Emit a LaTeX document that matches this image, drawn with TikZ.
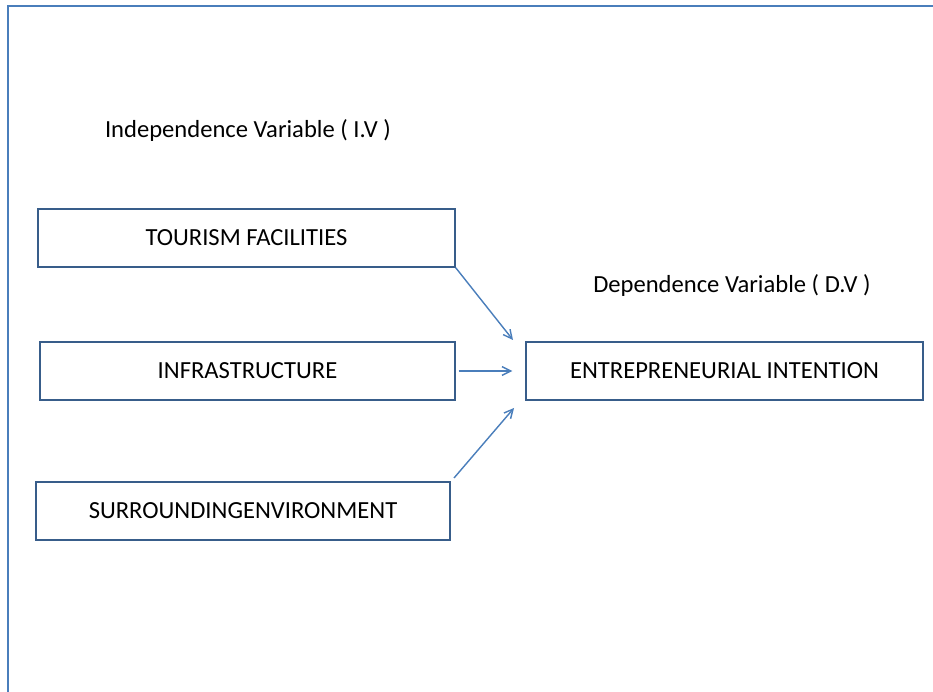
\documentclass[tikz,border=0pt]{standalone}
\usepackage{fontspec}
\setmainfont{Carlito}
\usepackage{xcolor}
\usetikzlibrary{arrows.meta}
\definecolor{lineblue}{HTML}{4A7EBB}
\definecolor{boxblue}{HTML}{385D8A}
\tikzset{
    RA1/.style ={rectangle,minimum height = 58*0.02cm, inner sep=0pt, draw=boxblue, thick, font=\fontsize{14}{16}\selectfont},
    TT1/.style ={font=\fontsize{14}{16}\selectfont},
    AR1/.style ={-{Straight Barb[length=5pt,width=5pt]}, draw=lineblue, thick}
}

\begin{document}
\begin{tikzpicture}[x=0.02cm,y=-0.02cm]
        \useasboundingbox (0,0) rectangle (933,692);
        % outer frame
        \draw[lineblue, thick] (8,692) -- (8,6) -- (933,6);
        % headings
        \node[TT1] (iv) at (248,130) {Independence Variable ( I.V )};
        \node[TT1] (dv) at (732,285) {Dependence Variable ( D.V )};
        % boxes
        \node[RA1, minimum width = 417*0.02cm] (tf) at (246.5,238) {TOURISM FACILITIES};
        \node[RA1, minimum width = 415*0.02cm] (inf) at (247.5,371) {INFRASTRUCTURE};
        \node[RA1, minimum width = 414*0.02cm] (se) at (243,511) {SURROUNDINGENVIRONMENT};
        \node[RA1, minimum width = 397*0.02cm] (ei) at (724.5,371) {ENTREPRENEURIAL INTENTION};
        % arrow ends
        \coordinate (a1) at (513,340);
        \coordinate (s3) at (454,478);
        \coordinate (a3) at (514,408);
        \draw[AR1] (tf.south east) -- (a1);
        \draw[AR1, shorten <=3*0.02cm, shorten >=13*0.02cm] (inf.east) -- (ei.west);
        \draw[AR1] (s3) -- (a3);
        \end{tikzpicture}
\end{document}
